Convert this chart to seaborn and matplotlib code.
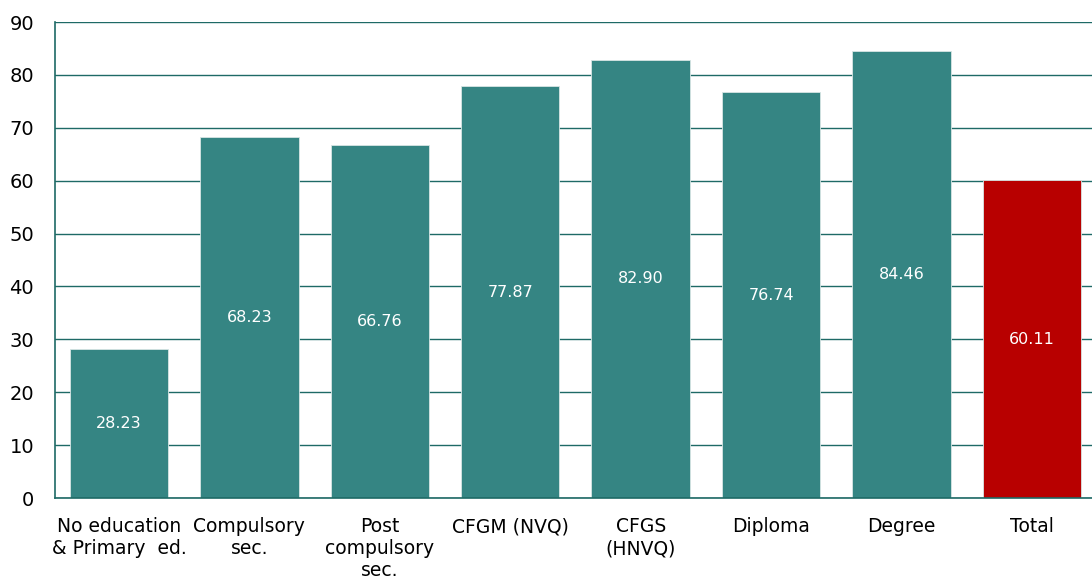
import numpy as np
import pandas as pd
import seaborn as sns
import matplotlib
matplotlib.use('Agg')
import matplotlib.pyplot as plt

categories = ['No education\n& Primary  ed.', 'Compulsory\nsec.', 'Post\ncompulsory\nsec.',
              'CFGM (NVQ)', 'CFGS\n(HNVQ)', 'Diploma', 'Degree', 'Total']
values = [28.23, 68.23, 66.76, 77.87, 82.90, 76.74, 84.46, 60.11]
yticks = [0, 10, 20, 30, 40, 50, 60, 70, 80, 90]

teal = '#358583'
red = '#B80000'
grid_col = '#1E6A66'
colors = [teal] * 7 + [red]

sns.set_style('white')
plt.rcParams['font.family'] = ['DejaVu Sans']

df = pd.DataFrame({'cat': categories, 'val': values})

fig = plt.figure(figsize=(10.92, 5.87), dpi=100)
ax = fig.add_axes([55 / 1092, 1 - 498 / 587, 1 - 55 / 1092, (498 - 22) / 587])
ax.set_axisbelow(True)
ax.yaxis.grid(True, color=grid_col, linewidth=1.0)

sns.barplot(data=df, x='cat', y='val', hue='cat', palette=colors, legend=False,
            saturation=1, width=0.755, ax=ax, edgecolor='#d8e6e5', linewidth=0.6)

for c in ax.containers:
    ax.bar_label(c, labels=[f'{v:.2f}' for v in c.datavalues], label_type='center',
                 color='white', fontsize=11.5)

ax.set_ylim(0, 90)
ax.set_yticks(yticks)
ax.set_xlim(-0.49, 7.46)
ax.set_xlabel('')
ax.set_ylabel('')
ax.tick_params(axis='y', length=0, labelsize=14, pad=15, labelcolor='black')
ax.tick_params(axis='x', length=0, labelsize=13.5, pad=14, labelcolor='black')
for lbl in ax.get_xticklabels():
    lbl.set_linespacing(1.2)

for s in ['top', 'right']:
    ax.spines[s].set_visible(False)
for s in ['left', 'bottom']:
    ax.spines[s].set_color(grid_col)
    ax.spines[s].set_linewidth(1.2)

fig.savefig('out.png', dpi=100)
